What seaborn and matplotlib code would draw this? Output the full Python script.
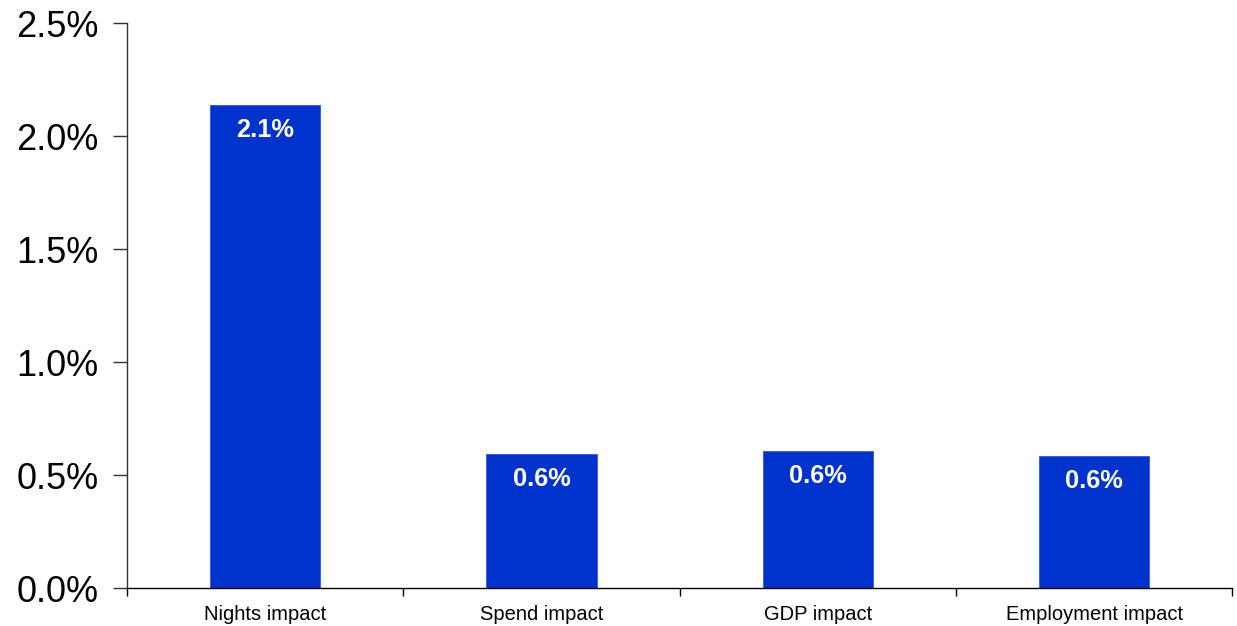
import matplotlib
matplotlib.use("Agg")
import matplotlib.pyplot as plt
import seaborn as sns
import pandas as pd
from matplotlib.ticker import FuncFormatter, FixedLocator

categories = ["Nights impact", "Spend impact", "GDP impact", "Employment impact"]
values = [2.14, 0.595, 0.606, 0.584]
labels = ["2.1%", "0.6%", "0.6%", "0.6%"]
yticks = [0.0, 0.5, 1.0, 1.5, 2.0, 2.5]

sns.set_style("white")
plt.rcParams['font.family'] = ['Liberation Sans', 'DejaVu Sans']

df = pd.DataFrame({"cat": categories, "val": values})

fig = plt.figure(figsize=(12.37, 6.26), dpi=100)
ax = fig.add_axes([0.1027, 0.0602, 0.8935, 0.9026])

sns.barplot(data=df, x="cat", y="val", color="#0033CC", saturation=1, width=0.4,
            edgecolor="#3355DD", linewidth=0.6, ax=ax)

ax.set_ylim(0, 2.5)
ax.set_xlim(-0.5, len(categories) - 0.5)
ax.set_yticks(yticks)
ax.yaxis.set_major_formatter(FuncFormatter(lambda v, p: f"{v:.1f}%"))
ax.tick_params(axis='y', labelsize=26, length=10, width=1, pad=10.5, direction='out',
               color='#333333', labelcolor='black', left=True)
ax.tick_params(axis='x', labelsize=14.5, length=0, pad=12, labelcolor='black')
ax.xaxis.set_minor_locator(FixedLocator([i - 0.5 for i in range(len(categories) + 1)]))
ax.tick_params(axis='x', which='minor', length=6, width=1, direction='out', bottom=True, color='black')

for sp in ["top", "right"]:
    ax.spines[sp].set_visible(False)
ax.spines["left"].set_color("#333333")
ax.spines["bottom"].set_color("black")
ax.spines["left"].set_linewidth(1)
ax.spines["bottom"].set_linewidth(1)

ax.set_xlabel("")
ax.set_ylabel("")

for i, (v, lab) in enumerate(zip(values, labels)):
    ax.annotate(lab, xy=(i, v), xytext=(0, -25), textcoords="offset pixels",
                ha="center", va="center", color="white", fontsize=18.3, fontweight="bold")

fig.savefig("out.png", dpi=100)
